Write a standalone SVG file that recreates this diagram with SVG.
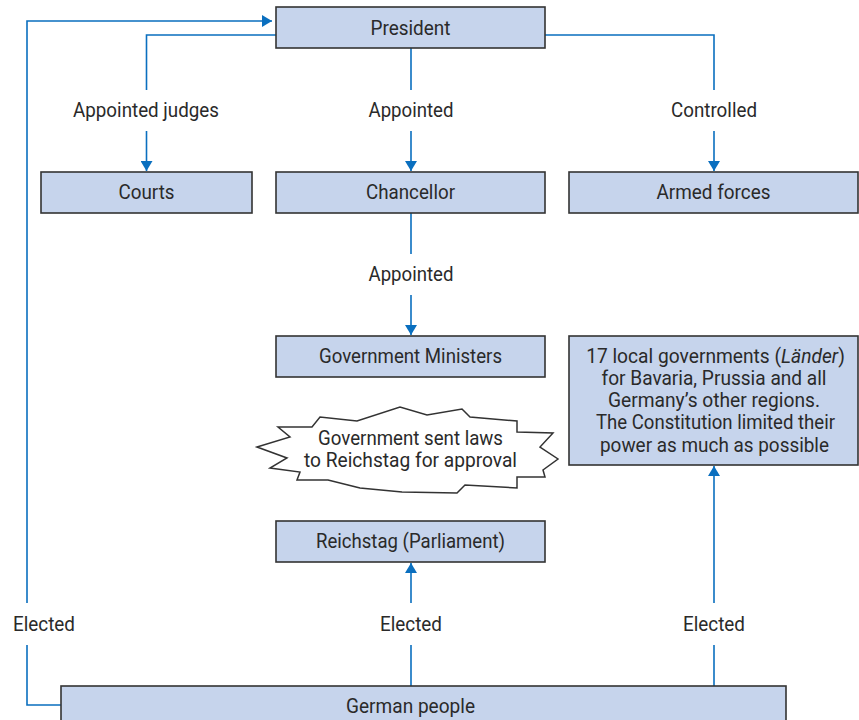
<svg xmlns="http://www.w3.org/2000/svg" width="859" height="720" viewBox="0 0 859 720">
<defs>
<marker id="ah" viewBox="0 0 10 12" refX="10" refY="6" markerWidth="10" markerHeight="12" markerUnits="userSpaceOnUse" orient="auto">
<path d="M0,0 L10,6 L0,12 Z" fill="#0a6fbf"/>
</marker>
<style>
.box{fill:#c6d4ec;stroke:#333;stroke-width:1.6}
.t{font-family:Roboto,"Liberation Sans",sans-serif;font-size:21px;fill:#2a2a2a;text-anchor:middle}
.s{font-size:20px}
.c{fill:none;stroke:#0a6fbf;stroke-width:1.6}
</style>
</defs>
<rect width="859" height="720" fill="#fff"/>
<g id="connectors">
<path class="c" d="M27,603 V21 H272" marker-end="url(#ah)"/>
<path class="c" d="M27,645 V705 H61"/>
<path class="c" d="M276,35 H146.5 V90"/>
<path class="c" d="M146.5,131 V171" marker-end="url(#ah)"/>
<path class="c" d="M411,48 V90"/>
<path class="c" d="M411,131 V171" marker-end="url(#ah)"/>
<path class="c" d="M545,35 H714 V90"/>
<path class="c" d="M714,131 V171" marker-end="url(#ah)"/>
<path class="c" d="M411,213 V254"/>
<path class="c" d="M411,295 V335" marker-end="url(#ah)"/>
<path class="c" d="M411,686 V645"/>
<path class="c" d="M411,603 V563" marker-end="url(#ah)"/>
<path class="c" d="M714,686 V645"/>
<path class="c" d="M714,603 V466" marker-end="url(#ah)"/>
<text class="t" x="146" y="117" textLength="146" lengthAdjust="spacingAndGlyphs">Appointed judges</text>
<text class="t" x="411" y="117" textLength="85" lengthAdjust="spacingAndGlyphs">Appointed</text>
<text class="t" x="714" y="117" textLength="86" lengthAdjust="spacingAndGlyphs">Controlled</text>
<text class="t" x="411" y="281" textLength="85" lengthAdjust="spacingAndGlyphs">Appointed</text>
<text class="t" x="44" y="631" textLength="62" lengthAdjust="spacingAndGlyphs">Elected</text>
<text class="t" x="411" y="631" textLength="62" lengthAdjust="spacingAndGlyphs">Elected</text>
<text class="t" x="714" y="631" textLength="62" lengthAdjust="spacingAndGlyphs">Elected</text>
</g>
<g id="president"><rect class="box" x="276" y="7" width="269" height="41"/><text class="t" x="410.5" y="35" textLength="80" lengthAdjust="spacingAndGlyphs">President</text></g>
<g id="courts"><rect class="box" x="41" y="172" width="211" height="41"/><text class="t" x="146.5" y="199" textLength="56" lengthAdjust="spacingAndGlyphs">Courts</text></g>
<g id="chancellor"><rect class="box" x="276" y="172" width="269" height="41"/><text class="t" x="410.5" y="199" textLength="89" lengthAdjust="spacingAndGlyphs">Chancellor</text></g>
<g id="armed"><rect class="box" x="569" y="172" width="289" height="41"/><text class="t" x="713.5" y="199" textLength="114" lengthAdjust="spacingAndGlyphs">Armed forces</text></g>
<g id="ministers"><rect class="box" x="276" y="336" width="269" height="41"/><text class="t" x="410.5" y="363" textLength="183" lengthAdjust="spacingAndGlyphs">Government Ministers</text></g>
<g id="laender"><rect class="box" x="569" y="336" width="289" height="129"/>
<text class="t" transform="translate(715.5,363) scale(0.914,1)" x="0" y="0">17 local governments (<tspan font-style="italic">Länder</tspan>)</text>
<text class="t s" x="714" y="385" textLength="225" lengthAdjust="spacingAndGlyphs">for Bavaria, Prussia and all</text>
<text class="t s" x="714" y="407" textLength="212" lengthAdjust="spacingAndGlyphs">Germany’s other regions.</text>
<text class="t s" x="715.5" y="429" textLength="239" lengthAdjust="spacingAndGlyphs">The Constitution limited their</text>
<text class="t s" x="714.5" y="452" textLength="229" lengthAdjust="spacingAndGlyphs">power as much as possible</text>
</g>
<g id="burst"><polygon points="257,447 290,437 278,427 312,427 320,417 357,421 400,407 427,415 462,409 470,417 517,421 517,432 553,433 540,447 558,459 543,470 545,477 517,477 517,488 465,485 457,493 402,492 360,488 328,480 297,480 300,472 270,468 287,458" fill="#fff" stroke="#333" stroke-width="1.5" stroke-linejoin="miter"/>
<text class="t" x="410.5" y="445" textLength="185" lengthAdjust="spacingAndGlyphs">Government sent laws</text>
<text class="t" x="410.5" y="467" textLength="213" lengthAdjust="spacingAndGlyphs">to Reichstag for approval</text>
</g>
<g id="reichstag"><rect class="box" x="276" y="521" width="269" height="41"/><text class="t" x="410.5" y="548" textLength="189" lengthAdjust="spacingAndGlyphs">Reichstag (Parliament)</text></g>
<g id="people"><rect class="box" x="61" y="686" width="725" height="40"/><text class="t" x="410.5" y="713" textLength="129" lengthAdjust="spacingAndGlyphs">German people</text></g>
</svg>
